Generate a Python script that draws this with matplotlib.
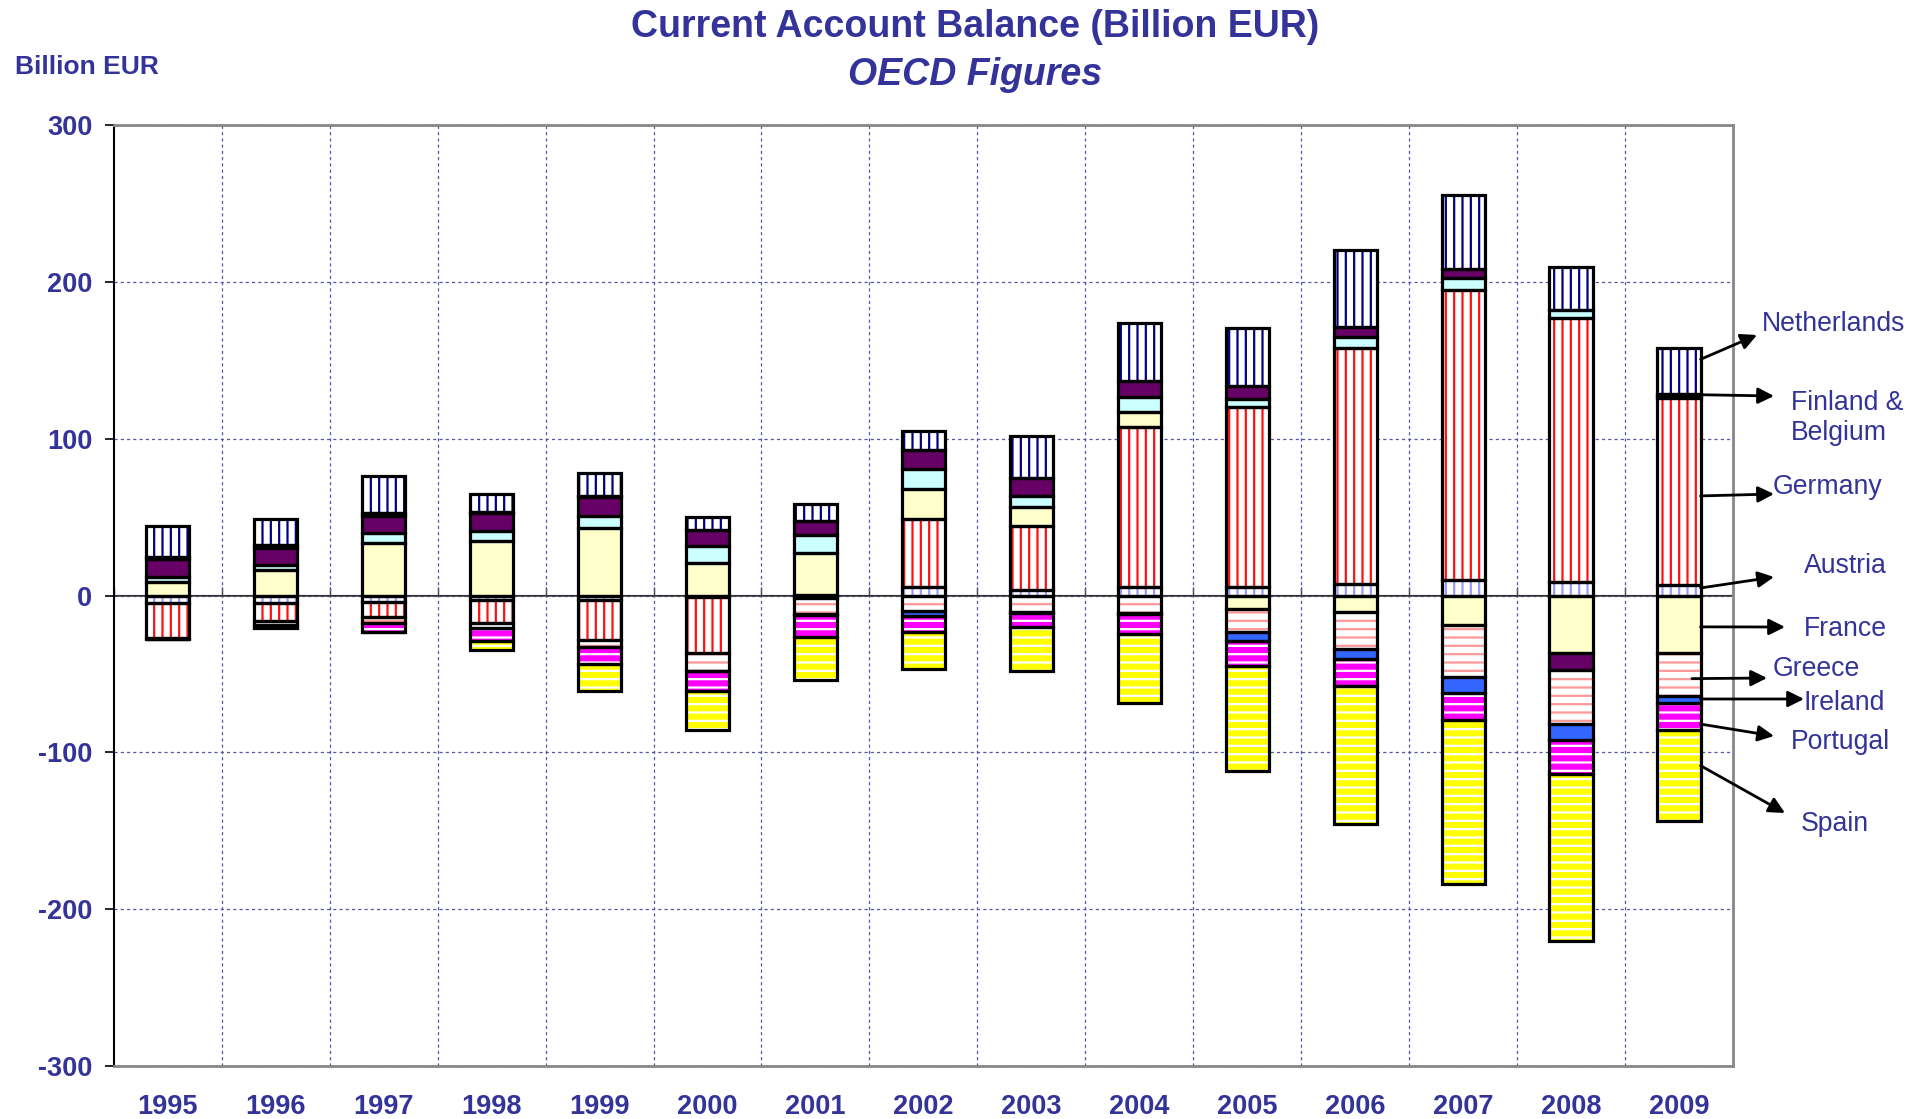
import numpy as np
import matplotlib
matplotlib.use("Agg")
import matplotlib.pyplot as plt

plt.rcParams["font.family"] = ["Liberation Sans", "DejaVu Sans"]
plt.rcParams["hatch.linewidth"] = 1.6
plt.rcParams["axes.unicode_minus"] = False

TXT = "#333399"
W, H = 1924, 1119

years = ["1995", "1996", "1997", "1998", "1999", "2000", "2001", "2002",
         "2003", "2004", "2005", "2006", "2007", "2008", "2009"]

# Billion EUR (stacking order as in the original sheet)
austria = [-4.5, -5, -4, -3, -3, -1, -1.5, 5.7, 3.6, 5.5, 5.5, 7.2, 9.6, 8.9, 6.6]
germany = [-22.5, -11, -9.5, -14.7, -25.3, -35.8, 0.5, 43.3, 40.9, 102.2, 114.5, 150.3, 185.4, 168, 119.4]
france = [8.5, 16, 33.5, 34.5, 43, 20.6, 26.5, 18.9, 11.9, 9.1, -8.5, -10.4, -19, -36.9, -36.5]
finland = [3.5, 3.5, 6.5, 6.5, 7.4, 10.7, 11.7, 12.7, 7.2, 9.6, 5.3, 7.5, 7.6, 5.4, 1.5]
belgium = [11, 11, 11, 11.5, 12.6, 10.2, 8.5, 12.4, 11.3, 10.4, 8.3, 6.5, 5.4, -10.5, 1]
greece = [-0.5, -2.5, -4, -3.3, -4.7, -11.1, -10, -10.2, -10.8, -11, -14.7, -23.8, -32.7, -34.6, -27.5]
ireland = [1.5, 1.5, 1.5, 1, 0.3, -0.5, -0.8, -2.8, -0.5, -0.5, -5.8, -6.6, -10.3, -10, -4.3]
portugal = [-0.2, -1.5, -5.5, -7.7, -10.6, -12.5, -14.3, -10.4, -9.1, -12.8, -16.1, -17.2, -17.7, -22, -17.7]
spain = [-0.3, -0.8, -0.5, -6.3, -17, -24.8, -27.2, -23.6, -27.5, -44, -66.6, -88, -104.3, -106.5, -58]
netherlands = [19.5, 17, 23.5, 11.5, 15, 8.5, 11.3, 11.7, 27, 37.2, 36.8, 48.5, 47.4, 27.4, 29]

# (values, face colour, hatch colour, hatch)
series = [
    (austria, "white", "#9999FF", "||"),
    (germany, "white", "#FF1010", "||"),
    (france, "#FFFFCC", None, None),
    (finland, "#CCFFFF", None, None),
    (belgium, "#660066", None, None),
    (greece, "white", "#FF9999", "--"),
    (ireland, "#3366FF", None, None),
    (portugal, "#FF00FF", "white", "--"),
    (spain, "#FFFF00", "white", "--"),
    (netherlands, "white", "#000080", "||"),
]

fig = plt.figure(figsize=(W / 100, H / 100), dpi=100)
ax = fig.add_axes([113.8 / W, 1 - 1066 / H, (1733 - 113.8) / W, (1066 - 125) / H])

x = np.arange(len(years))
width = 0.4
pos = np.zeros(len(years))
neg = np.zeros(len(years))
for vals, fc, hc, hatch in series:
    v = np.array(vals, dtype=float)
    bottom = np.where(v >= 0, pos, neg)
    ax.bar(x, v, width, bottom=bottom, color=fc, edgecolor=hc if hc else fc,
           linewidth=0, hatch=hatch, zorder=2)
    ax.bar(x, v, width, bottom=bottom, fill=False, edgecolor="black",
           linewidth=2.3, joinstyle="miter", zorder=3)
    pos = pos + np.where(v > 0, v, 0)
    neg = neg + np.where(v < 0, v, 0)

ax.set_xlim(-0.5, len(years) - 0.5)
ax.set_ylim(-300, 300)
ax.set_yticks(np.arange(-300, 301, 100))
ax.set_xticks(x)
ax.set_xticklabels(years)
ax.set_xticks(np.arange(0.5, len(years) - 1, 1), minor=True)

ax.tick_params(axis="x", which="both", length=0, pad=20.5, labelsize=19.5, labelcolor=TXT)
ax.tick_params(axis="y", direction="out", length=6.5, width=1.2, color="black",
               pad=9, labelsize=19.5, labelcolor=TXT)
for lab in ax.get_xticklabels() + ax.get_yticklabels():
    lab.set_fontweight("bold")

ax.grid(axis="y", which="major", color="#5555AA", linestyle=(0, (2.5, 2.5)), linewidth=0.9, zorder=0)
ax.grid(axis="x", which="minor", color="#5555AA", linestyle=(0, (2.5, 2.5)), linewidth=0.9, zorder=0)
ax.set_axisbelow(True)
ax.axhline(0, color="#404040", linewidth=1.1, zorder=1)

for side in ["top", "right", "bottom"]:
    ax.spines[side].set_color("#888888")
    ax.spines[side].set_linewidth(2)
ax.spines["left"].set_color("black")
ax.spines["left"].set_linewidth(1.5)

# category axis crossing at zero with ticks between the years
zero_ax = ax.secondary_xaxis(0.5)
zero_ax.set_xticks(np.arange(-0.5, len(years), 1))
zero_ax.set_xticklabels([""] * (len(years) + 1))
zero_ax.tick_params(direction="out", length=6, width=1, color="#404040")
zero_ax.spines["bottom"].set_color("#404040")
zero_ax.spines["bottom"].set_linewidth(1)

# titles
fig.text(975 / W, 1 - 27 / H, "Current Account Balance (Billion EUR)", ha="center", va="center",
         fontsize=27, fontweight="bold", color=TXT)
fig.text(975 / W, 1 - 75 / H, "OECD Figures", ha="center", va="center",
         fontsize=27, fontweight="bold", fontstyle="italic", color=TXT)
fig.text(15 / W, 1 - 67 / H, "Billion EUR", ha="left", va="center",
         fontsize=19, fontweight="bold", color=TXT)

# country labels with arrows pointing out of the 2009 bar
edge = x[-1] + width / 2
labels = ["Netherlands", "Finland &\nBelgium", "Germany", "Austria", "France",
          "Greece", "Ireland", "Portugal", "Spain"]
tail_x = [edge, edge, edge, edge, edge, edge - 0.08, edge, edge, edge]
tail_y = [150.6, 128, 63.5, 4.8, -20, -53, -66, -82, -108.5]
head_px = [(1757, 335), (1774, 396), (1774, 494), (1774, 577), (1785, 627),
           (1767, 678), (1804, 699), (1774, 736), (1785, 813)]
label_px = [(1762, 324), (1791, 418), (1773, 487), (1804, 566), (1804, 629),
            (1773, 669), (1804, 703), (1791, 742), (1801, 824)]

for lab, tx, ty, (hx, hy), (lx, ly) in zip(labels, tail_x, tail_y, head_px, label_px):
    ax.annotate("", xy=(hx, H - hy), xycoords="figure pixels",
                xytext=(tx, ty), textcoords="data",
                arrowprops=dict(arrowstyle="-|>", color="black", lw=2,
                                mutation_scale=24, shrinkA=0, shrinkB=0),
                annotation_clip=False)
    fig.text(lx / W, 1 - ly / H, lab, ha="left", va="center", fontsize=19.2,
             color=TXT, linespacing=1.15)

fig.savefig("out.png", dpi=100)
